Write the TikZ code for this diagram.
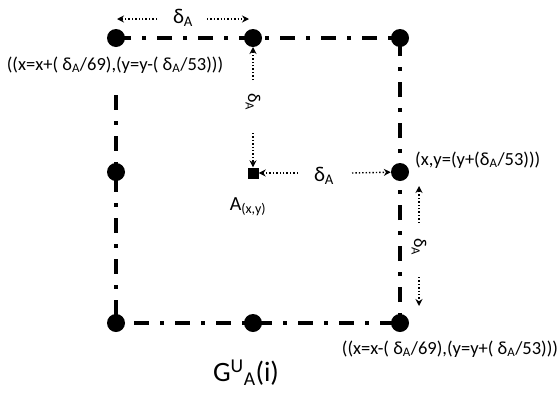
\documentclass[tikz,border=0pt]{standalone}
\usepackage{fontspec}
\setmainfont{Carlito}
\usetikzlibrary{arrows.meta}
\newcommand\dA{δ\textsubscript{A}}
\begin{document}
\begin{tikzpicture}[x=1pt,y=-1pt,
  edge/.style={line width=3.5pt, dash pattern=on 15pt off 11pt on 4pt off 11pt},
  dot/.style={circle,fill=black,inner sep=0pt,minimum size=18pt},
  sq/.style={rectangle,fill=black,inner sep=0pt,minimum size=11pt},
  darr/.style={dotted, line width=1.4pt, -{Stealth[length=7pt,width=7pt]}},
  lbl/.style={font=\fontsize{18.5}{21}\selectfont, inner sep=0pt},
  dlbl/.style={font=\fontsize{21}{23}\selectfont, inner sep=0pt},
  vlbl/.style={font=\fontsize{18}{20}\selectfont, inner sep=0pt, rotate=-90},
]
\useasboundingbox (0,0) rectangle (559,397);
% frame
\coordinate (lstart) at (116,95);
\node[dot] (tl) at (116,38) {};
\node[dot] (tm) at (253,38) {};
\node[dot] (tr) at (400,38) {};
\node[dot] (ml) at (116,172) {};
\node[dot] (mr) at (400,172) {};
\node[dot] (bl) at (116,323) {};
\node[dot] (bm) at (253,323) {};
\node[dot] (br) at (400,323) {};
\draw[edge] (lstart) -- (ml.center) -- (bl.center) -- (bm.center) -- (br.center) -- (mr.center) -- (tr.center) -- (tm.center) -- (tl.center);
\node[sq] (A) at (253,173) {};
% labels
\node[lbl] (ltl) at (115,65) {((x=x+( \dA/69),(y=y-( \dA/53)))};
\node[lbl, anchor=west] (lmr) at (415,160) {(x,y=(y+(\dA/53)))};
\node[lbl] (lbr) at (450,349) {((x=x-( \dA/69),(y=y+( \dA/53)))};
\node[font=\fontsize{20}{22}\selectfont, inner sep=0pt] (lA) at (248,207) {A\textsubscript{(x,y)}};
\node[font=\fontsize{28}{30}\selectfont, inner sep=0pt] (G) at (246,373) {G\textsuperscript{U}\textsubscript{A}(i)};
% delta labels
\node[dlbl] (dtop) at (183,18) {\dA};
\node[vlbl] (dvert) at (253,102) {\dA};
\node[dlbl] (dhor) at (324,176) {\dA};
\node[vlbl] (dright) at (419,247) {\dA};
% arrow ends
\coordinate (t1s) at (157,19); \coordinate (t1e) at (117,19);
\coordinate (t2s) at (207,19); \coordinate (t2e) at (249,19);
\coordinate (v1s) at (253,80); \coordinate (v1e) at (253,47);
\coordinate (v2s) at (253,133);
\coordinate (h1s) at (298,173);
\coordinate (h2s) at (352,173);
\coordinate (r1s) at (419,223); \coordinate (r1e) at (419,186);
\coordinate (r2s) at (419,277); \coordinate (r2e) at (419,306);
\draw[darr] (t1s) -- (t1e);
\draw[darr] (t2s) -- (t2e);
\draw[darr] (v1s) -- (v1e);
\draw[darr] (v2s) -- (A);
\draw[darr] (h1s) -- (A);
\draw[darr] (h2s) -- (mr);
\draw[darr] (r1s) -- (r1e);
\draw[darr] (r2s) -- (r2e);
\end{tikzpicture}
\end{document}
